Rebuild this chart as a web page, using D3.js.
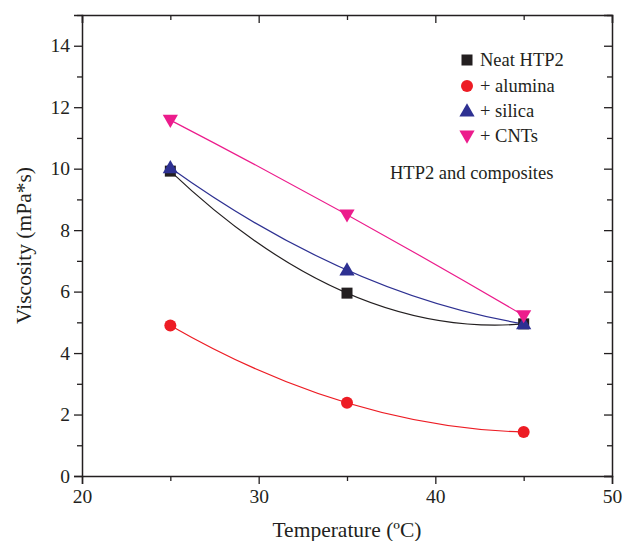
<!DOCTYPE html>
<html>
<head>
<meta charset="utf-8">
<script src="https://cdn.jsdelivr.net/npm/d3@7"></script>
<style>
  body { margin: 0; background: #fff; }
  svg text { font-family: "Liberation Serif", "DejaVu Serif", serif; fill: #231f20; }
</style>
</head>
<body>
<div id="chart"></div>
<script>
// data
const temps = [25, 35, 45];
const neat = [9.92, 5.95, 4.95];
const alumina = [4.9, 2.38, 1.43];
const silica = [10.03, 6.7, 4.95];
const cnts = [11.58, 8.5, 5.22];

const seriesNames = ['Neat HTP2', '+ alumina', '+ silica', '+ CNTs'];
const seriesColors = ['#231f20', '#ed1c24', '#2e3192', '#ec1c8c'];
const seriesShapes = ['square', 'circle', 'up', 'down'];
const seriesValues = [neat, alumina, silica, cnts];

const xTicks = [20, 30, 40, 50];
const xMinor = [25, 35, 45];
const yTicks = [0, 2, 4, 6, 8, 10, 12, 14];
const yMinor = [1, 3, 5, 7, 9, 11, 13, 15];

const W = 623, H = 541;
const pLeft = 82, pRight = 612, pTop = 15, pBottom = 476;

const svg = d3.select('#chart').append('svg').attr('width', W).attr('height', H);

const x = d3.scaleLinear([20, 50], [pLeft, pRight]);
const y = d3.scaleLinear([0, 15], [pBottom, pTop]);

// quadratic through 3 points (like the Origin spline)
function curveParabola(context) {
  let pts = [];
  return {
    areaStart() {}, areaEnd() {},
    lineStart() { pts = []; },
    point(px, py) { pts.push([px, py]); },
    lineEnd() {
      if (pts.length === 3) {
        const [p0, p1, p2] = pts;
        const cx = 2 * p1[0] - (p0[0] + p2[0]) / 2;
        const cy = 2 * p1[1] - (p0[1] + p2[1]) / 2;
        context.moveTo(p0[0], p0[1]);
        context.quadraticCurveTo(cx, cy, p2[0], p2[1]);
      } else {
        pts.forEach((p, i) => i ? context.lineTo(p[0], p[1]) : context.moveTo(p[0], p[1]));
      }
    }
  };
}

// axes
const axisColor = '#231f20';
svg.append('g').attr('transform', `translate(0,${pBottom})`)
  .call(d3.axisBottom(x).tickValues(xTicks).tickSize(8).tickPadding(5).tickFormat(d3.format('d')))
  .call(g => g.select('.domain').attr('stroke', axisColor).attr('stroke-width', 1.5))
  .call(g => g.selectAll('.tick line').attr('stroke', axisColor).attr('stroke-width', 1.3))
  .call(g => g.selectAll('.tick text').attr('font-size', 19.5).attr('fill', '#333'));
svg.append('g').attr('transform', `translate(0,${pBottom})`)
  .call(d3.axisBottom(x).tickValues(xMinor).tickSize(5).tickFormat(''))
  .call(g => g.select('.domain').remove())
  .call(g => g.selectAll('.tick line').attr('stroke', axisColor).attr('stroke-width', 1.3));

svg.append('g').attr('transform', `translate(${pLeft},0)`)
  .call(d3.axisLeft(y).tickValues(yTicks).tickSize(8).tickPadding(4).tickFormat(d3.format('d')))
  .call(g => g.select('.domain').attr('stroke', axisColor).attr('stroke-width', 1.5))
  .call(g => g.selectAll('.tick line').attr('stroke', axisColor).attr('stroke-width', 1.3))
  .call(g => g.selectAll('.tick text').attr('font-size', 19.5).attr('fill', '#333'));
svg.append('g').attr('transform', `translate(${pLeft},0)`)
  .call(d3.axisLeft(y).tickValues(yMinor).tickSize(5).tickFormat(''))
  .call(g => g.select('.domain').remove())
  .call(g => g.selectAll('.tick line').attr('stroke', axisColor).attr('stroke-width', 1.3));

// mirrored top / right axes with inward ticks
svg.append('g').attr('transform', `translate(0,${pTop})`)
  .call(d3.axisBottom(x).tickValues(xTicks).tickSize(8).tickFormat(''))
  .call(g => g.select('.domain').attr('stroke', axisColor).attr('stroke-width', 1.5))
  .call(g => g.selectAll('.tick line').attr('stroke', axisColor).attr('stroke-width', 1.3));
svg.append('g').attr('transform', `translate(0,${pTop})`)
  .call(d3.axisBottom(x).tickValues(xMinor).tickSize(5).tickFormat(''))
  .call(g => g.select('.domain').remove())
  .call(g => g.selectAll('.tick line').attr('stroke', axisColor).attr('stroke-width', 1.3));
svg.append('g').attr('transform', `translate(${pRight},0)`)
  .call(d3.axisRight(y).tickValues(yTicks).tickSize(-8).tickFormat(''))
  .call(g => g.select('.domain').attr('stroke', axisColor).attr('stroke-width', 1.5))
  .call(g => g.selectAll('.tick line').attr('stroke', axisColor).attr('stroke-width', 1.3));
svg.append('g').attr('transform', `translate(${pRight},0)`)
  .call(d3.axisRight(y).tickValues(yMinor).tickSize(-5).tickFormat(''))
  .call(g => g.select('.domain').remove())
  .call(g => g.selectAll('.tick line').attr('stroke', axisColor).attr('stroke-width', 1.3));

// axis titles
svg.append('text').attr('x', (pLeft + pRight) / 2).attr('y', 537)
  .attr('text-anchor', 'middle').attr('font-size', 21.5).text('Temperature (ºC)');
svg.append('text').attr('transform', `translate(31,${(pTop + pBottom) / 2}) rotate(-90)`)
  .attr('text-anchor', 'middle').attr('font-size', 21.5).text('Viscosity (mPa*s)');

// markers
function marker(g, shape, color, cx, cy) {
  if (shape === 'square') {
    g.append('rect').attr('x', cx - 5.5).attr('y', cy - 5.5).attr('width', 11).attr('height', 11).attr('fill', color);
  } else if (shape === 'circle') {
    g.append('circle').attr('cx', cx).attr('cy', cy).attr('r', 6).attr('fill', color);
  } else {
    const sym = d3.symbol(d3.symbolTriangle, 100)();
    g.append('path').attr('d', sym).attr('fill', color)
      .attr('transform', `translate(${cx},${cy + (shape === 'up' ? 1 : -1)}) rotate(${shape === 'up' ? 0 : 180})`);
  }
}

const line = d3.line().x((d, i) => x(temps[i])).y(d => y(d)).curve(curveParabola);

const plot = svg.append('g');
seriesValues.forEach((vals, k) => {
  plot.append('path').attr('d', line(vals)).attr('fill', 'none')
    .attr('stroke', seriesColors[k]).attr('stroke-width', 1.2);
});
seriesValues.forEach((vals, k) => {
  vals.forEach((v, i) => marker(plot, seriesShapes[k], seriesColors[k], x(temps[i]), y(v)));
});

// legend
const legend = svg.append('g');
const legendY = [60, 86, 111, 136];
seriesNames.forEach((name, k) => {
  marker(legend, seriesShapes[k], seriesColors[k], 467, legendY[k]);
  legend.append('text').attr('x', 480).attr('y', legendY[k] + 6)
    .attr('font-size', 18.5).text(name);
});
svg.append('text').attr('x', 390).attr('y', 179).attr('font-size', 18.5).text('HTP2 and composites');
</script>
</body>
</html>
